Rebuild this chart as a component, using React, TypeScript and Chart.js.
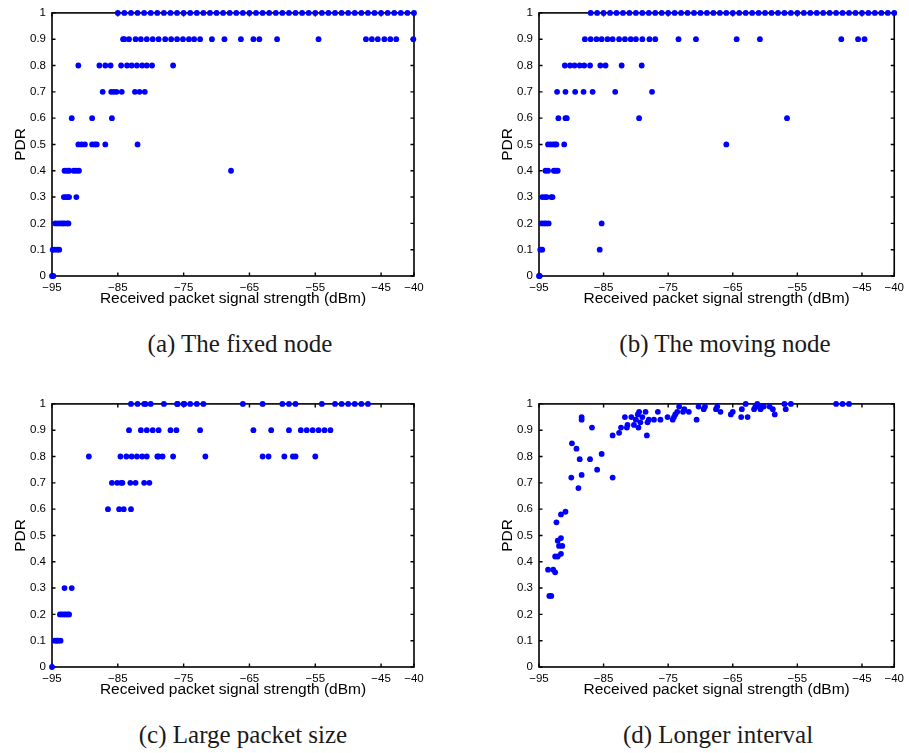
import React, { useEffect, useRef } from 'react';
import { Chart, registerables } from 'chart.js';

Chart.register(...registerables);

// ---------- axes ----------
const xTickValues = [-95, -85, -75, -65, -55, -45, -40];
const yTickValues = [0, 0.1, 0.2, 0.3, 0.4, 0.5, 0.6, 0.7, 0.8, 0.9, 1];
const xTitle = 'Received packet signal strength (dBm)';
const yTitle = 'PDR';

// ---------- (a) The fixed node : RSSI values for each PDR level ----------
const fixed100 = [-85, -84, -83, -82, -81, -80, -79, -78, -77, -76, -75, -74, -73, -72, -71, -70, -69, -68, -67, -66, -65, -64, -63, -62, -61, -60, -59, -58, -57, -56, -55, -54, -53, -52, -51, -50, -49, -48, -47, -46, -45, -44, -43, -42, -41, -40];
const fixed90 = [-84.2, -84.0, -83.3, -82.3, -81.5, -80.6, -79.7, -78.8, -77.8, -76.9, -76.0, -75.1, -74.2, -73.4, -72.5, -70.7, -68.8, -66.3, -64.4, -63.5, -60.8, -54.5, -47.3, -46.4, -45.5, -44.5, -43.6, -42.7, -40.1];
const fixed80 = [-91.0, -87.8, -86.9, -86.1, -84.5, -83.6, -82.9, -82.1, -81.3, -80.6, -79.8, -76.6];
const fixed70 = [-87.3, -86.0, -85.6, -85.2, -84.4, -82.4, -81.7, -80.9];
const fixed60 = [-92.0, -88.9, -85.9];
const fixed50 = [-91.0, -90.5, -90.0, -88.9, -88.5, -88.2, -86.9, -82.0];
const fixed40 = [-93.1, -92.7, -92.4, -91.7, -91.3, -90.9, -67.8];
const fixed30 = [-93.2, -92.9, -92.6, -92.4, -91.3];
const fixed20 = [-94.5, -94.1, -93.7, -93.4, -93.1, -92.7, -92.5];
const fixed10 = [-94.9, -94.6, -94.2, -93.9];
const fixed0 = [-95.0, -94.8];

// ---------- (b) The moving node ----------
const moving100 = [-87, -86, -85, -84, -83, -82, -81, -80, -79, -78, -77, -76, -75, -74, -73, -72, -71, -70, -69, -68, -67, -66, -65, -64, -63, -62, -61, -60, -59, -58, -57, -56, -55, -54, -53, -52, -51, -50, -49, -48, -47, -46, -45, -44, -43, -42, -41, -40];
const moving90 = [-87.9, -87.0, -86.1, -85.3, -84.4, -83.6, -82.6, -81.7, -80.8, -80.0, -79.0, -77.9, -77.0, -73.4, -70.7, -64.4, -60.8, -48.2, -45.6, -44.6];
const moving80 = [-91.0, -90.2, -89.5, -88.7, -88.0, -87.1, -85.5, -84.7, -82.2, -79.1];
const moving70 = [-92.2, -90.9, -89.4, -88.1, -86.7, -83.2, -77.5];
const moving60 = [-92.0, -90.9, -90.7, -79.5, -56.6];
const moving50 = [-93.6, -93.2, -92.8, -92.5, -92.3, -91.1, -66.0];
const moving40 = [-94.0, -93.6, -92.7, -92.4, -92.1];
const moving30 = [-94.5, -94.1, -93.8, -93.1, -92.9];
const moving20 = [-94.6, -94.2, -93.9, -93.5, -85.3];
const moving10 = [-94.8, -94.5, -85.6];
const moving0 = [-95.0, -94.9];

// ---------- (c) Large packet size ----------
const large100 = [-83, -82, -81, -80.8, -80, -78, -76, -75.9, -75, -74.9, -74, -73, -72, -66, -63, -60, -59, -58, -54, -52, -51, -50, -49, -48, -47];
const large90 = [-83.3, -81.5, -80.6, -79.7, -78.8, -77.0, -76.1, -72.5, -64.4, -61.7, -59.0, -57.2, -56.3, -55.4, -54.5, -53.6, -52.7];
const large80 = [-89.4, -84.6, -83.7, -82.9, -82.1, -81.3, -80.6, -79.0, -78.8, -78.2, -76.6, -71.7, -63.0, -62.1, -59.7, -58.4, -58.0, -55.0];
const large70 = [-85.9, -85.1, -84.5, -84.3, -83.1, -82.3, -81.0, -80.2];
const large60 = [-86.5, -84.8, -84.1, -83.0];
const large30 = [-93.1, -92.0];
const large20 = [-93.8, -93.5, -93.2, -92.9, -92.6, -92.4];
const large10 = [-94.6, -94.3, -94.1, -93.7];
const large0 = [-95.0];

// ---------- (d) Longer interval ----------
const intervalRssi = [-93.6, -93.4, -93.1, -92.8, -92.5, -92.5, -92.1, -92.3, -92.1, -91.6, -91.9, -91.4, -91.6, -91.6, -90.9, -90.0, -89.9, -89.2, -88.9, -88.7, -88.4, -88.4, -88.4, -87.1, -86.8, -86.0, -85.3, -83.6, -83.6, -82.6, -82.3, -81.7, -81.4, -81.3, -80.7, -80.3, -80.0, -79.7, -79.6, -79.5, -79.3, -79.0, -78.5, -78.3, -78.2, -78.0, -77.2, -76.6, -76.2, -75.1, -74.3, -74.1, -73.9, -73.6, -73.3, -72.7, -72.5, -71.8, -70.6, -70.3, -69.5, -69.3, -67.6, -67.4, -66.9, -65.3, -65.0, -63.7, -63.6, -63.0, -62.7, -61.7, -61.5, -61.2, -61.0, -60.7, -60.4, -60.2, -59.3, -58.8, -58.5, -57.0, -56.8, -56.0, -49.0, -48.0, -47.0];
const intervalPdr = [0.37, 0.27, 0.27, 0.37, 0.36, 0.42, 0.42, 0.55, 0.48, 0.49, 0.46, 0.46, 0.43, 0.58, 0.59, 0.72, 0.85, 0.83, 0.68, 0.79, 0.73, 0.95, 0.94, 0.79, 0.91, 0.75, 0.81, 0.88, 0.72, 0.89, 0.91, 0.95, 0.91, 0.92, 0.95, 0.92, 0.94, 0.96, 0.91, 0.97, 0.93, 0.95, 0.97, 0.88, 0.93, 0.94, 0.94, 0.97, 0.94, 0.95, 0.94, 0.95, 0.96, 0.97, 0.99, 0.97, 0.98, 0.97, 0.94, 0.99, 0.98, 0.99, 0.98, 0.99, 0.97, 0.96, 0.97, 0.95, 0.98, 1.0, 0.95, 0.98, 0.99, 1.0, 0.99, 0.98, 0.99, 0.99, 0.99, 0.98, 0.96, 1.0, 0.98, 1.0, 1.0, 1.0, 1.0];

type Pt = { x: number; y: number };

function fromLevels(rows: [number, number[]][]): Pt[] {
  const pts: Pt[] = [];
  rows.forEach(([level, xs]) => xs.forEach((x) => pts.push({ x, y: level })));
  return pts;
}

const fixedPoints = fromLevels([
  [1, fixed100], [0.9, fixed90], [0.8, fixed80], [0.7, fixed70], [0.6, fixed60], [0.5, fixed50],
  [0.4, fixed40], [0.3, fixed30], [0.2, fixed20], [0.1, fixed10], [0, fixed0],
]);
const movingPoints = fromLevels([
  [1, moving100], [0.9, moving90], [0.8, moving80], [0.7, moving70], [0.6, moving60], [0.5, moving50],
  [0.4, moving40], [0.3, moving30], [0.2, moving20], [0.1, moving10], [0, moving0],
]);
const largePoints = fromLevels([
  [1, large100], [0.9, large90], [0.8, large80], [0.7, large70], [0.6, large60],
  [0.3, large30], [0.2, large20], [0.1, large10], [0, large0],
]);
const intervalPoints: Pt[] = intervalRssi.map((x, i) => ({ x, y: intervalPdr[i] }));

const SANS = '"Liberation Sans", Arial, Helvetica, sans-serif';
const SERIF = '"Liberation Serif", "Times New Roman", serif';

const boxPlugin = {
  id: 'matlabBox',
  beforeDatasetsDraw(chart: any) {
    const { ctx, chartArea } = chart;
    const { left, right, top, bottom } = chartArea;
    const xs = chart.scales.x;
    const ys = chart.scales.y;
    const tl = 3.5;
    ctx.save();
    ctx.strokeStyle = '#000';
    ctx.lineWidth = 1.4;
    ctx.beginPath();
    xTickValues.forEach((v) => {
      const px = xs.getPixelForValue(v);
      ctx.moveTo(px, bottom);
      ctx.lineTo(px, bottom - tl);
      ctx.moveTo(px, top);
      ctx.lineTo(px, top + tl);
    });
    yTickValues.forEach((v) => {
      const py = ys.getPixelForValue(v);
      ctx.moveTo(left, py);
      ctx.lineTo(left + tl, py);
      ctx.moveTo(right, py);
      ctx.lineTo(right - tl, py);
    });
    ctx.stroke();
    ctx.lineWidth = 1.6;
    ctx.strokeRect(left, top, right - left, bottom - top);
    ctx.restore();
  },
};

type PanelProps = {
  points: Pt[];
  left: number;
  top: number;
  width: number;
  height: number;
  padRight: number;
};

function Panel({ points, left, top, width, height, padRight }: PanelProps) {
  const ref = useRef<HTMLCanvasElement | null>(null);
  useEffect(() => {
    if (!ref.current) return;
    const chart = new Chart(ref.current, {
      type: 'scatter',
      data: {
        datasets: [
          {
            data: points,
            backgroundColor: '#0000ff',
            borderColor: '#0000ff',
            pointRadius: 2.9,
            pointBorderWidth: 0,
            showLine: false,
            clip: false as any,
          },
        ],
      },
      plugins: [boxPlugin],
      options: {
        animation: false,
        responsive: false,
        maintainAspectRatio: false,
        devicePixelRatio: 1,
        events: [],
        layout: { autoPadding: false, padding: { left: 0, top: 7, right: padRight, bottom: 0 } },
        plugins: { legend: { display: false }, tooltip: { enabled: false } },
        scales: {
          x: {
            type: 'linear',
            min: -95,
            max: -40,
            grid: { display: false, drawTicks: false },
            border: { display: false },
            afterBuildTicks: (s: any) => {
              s.ticks = xTickValues.map((v) => ({ value: v }));
            },
            afterFit: (s: any) => {
              s.height = 36;
            },
            ticks: {
              autoSkip: false,
              maxRotation: 0,
              padding: 5,
              color: '#000',
              font: { family: SANS, size: 11.5 },
              callback: (v: any) => (Number(v) < 0 ? '\u2212' + Math.abs(Number(v)) : String(v)),
            },
            title: {
              display: true,
              text: xTitle,
              color: '#000',
              font: { family: SANS, size: 15.5 },
              padding: { top: 0, bottom: 4 },
            },
          },
          y: {
            type: 'linear',
            min: 0,
            max: 1,
            grid: { display: false, drawTicks: false },
            border: { display: false },
            afterBuildTicks: (s: any) => {
              s.ticks = yTickValues.map((v) => ({ value: v }));
            },
            afterFit: (s: any) => {
              s.width = 52;
            },
            ticks: {
              autoSkip: false,
              padding: 6,
              color: '#000',
              font: { family: SANS, size: 11.5 },
              callback: (v: any) => String(Math.round(Number(v) * 10) / 10),
            },
            title: {
              display: true,
              text: yTitle,
              color: '#000',
              font: { family: SANS, size: 15.5 },
              padding: { top: 11, bottom: 0 },
            },
          },
        },
      } as any,
    });
    return () => chart.destroy();
  }, [points]);
  return (
    <canvas
      ref={ref}
      width={width}
      height={height}
      style={{ position: 'absolute', left, top, width, height }}
    />
  );
}

function Caption({ text, cx, top }: { text: string; cx: number; top: number }) {
  return (
    <div
      style={{
        position: 'absolute',
        left: cx,
        top,
        transform: 'translateX(-50%)',
        whiteSpace: 'nowrap',
        fontFamily: SERIF,
        fontSize: 25,
        lineHeight: '25px',
        color: '#1a1a1a',
      }}
    >
      {text}
    </div>
  );
}

export default function App() {
  return (
    <div
      style={{
        position: 'absolute',
        left: 0,
        top: 0,
        width: 909,
        height: 753,
        overflow: 'hidden',
        background: '#fff',
      }}
    >
      <Panel points={fixedPoints} left={0} top={0} width={440} height={312} padRight={26} />
      <Panel points={movingPoints} left={487} top={0} width={422} height={312} padRight={8} />
      <Panel points={largePoints} left={0} top={391} width={440} height={312} padRight={26} />
      <Panel points={intervalPoints} left={487} top={391} width={422} height={312} padRight={8} />
      <Caption text="(a) The fixed node" cx={240} top={331} />
      <Caption text="(b) The moving node" cx={725} top={331} />
      <Caption text="(c) Large packet size" cx={243} top={722} />
      <Caption text="(d) Longer interval" cx={718} top={722} />
    </div>
  );
}
